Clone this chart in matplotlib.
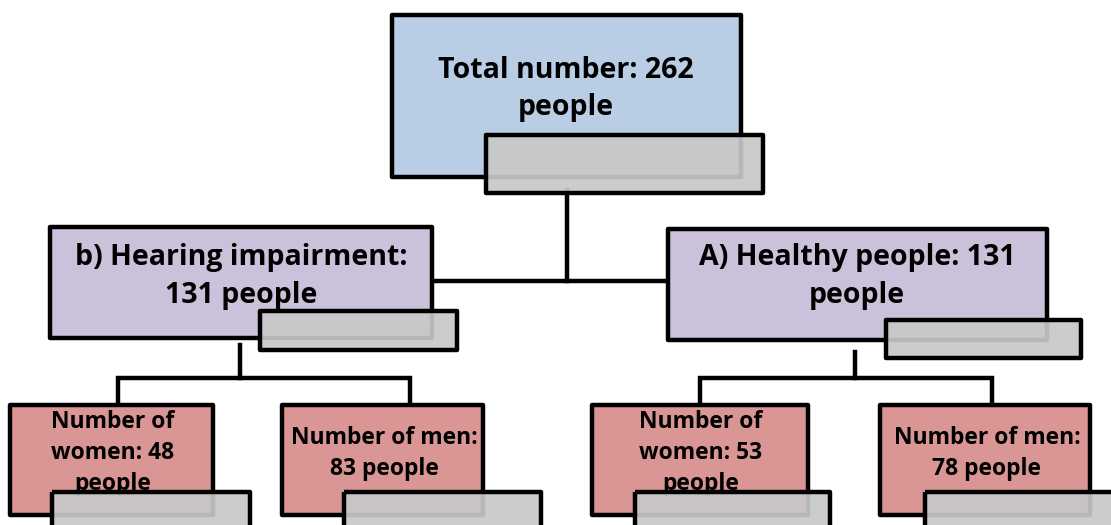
import matplotlib.pyplot as plt
import matplotlib.patches as patches

# data
total = 262
group_names = ["b) Hearing impairment", "A) Healthy people"]
group_counts = [131, 131]
women_counts = [48, 53]
men_counts = [83, 78]

BLUE = "#b9cde5"
PURPLE = "#ccc1da"
RED = "#d99694"
GRAY = "#c8c8c8"
FONT = "Open Sans"


def box(ax, x0, y0, x1, y1, color, lines, tx, ty, size, step, gray):
    rect = patches.Rectangle((x0, y0), x1 - x0, y1 - y0, facecolor=color,
                             edgecolor="black", lw=3.2, joinstyle="round", zorder=2)
    ax.add_patch(rect)
    for i, line in enumerate(lines):
        ax.text(tx, ty + i * step, line, ha="center", va="center", fontsize=size,
                fontweight="bold", family=FONT, zorder=3)
    gx0, gy0, gx1, gy1 = gray
    g = patches.Rectangle((gx0, gy0), gx1 - gx0, gy1 - gy0, facecolor=GRAY, alpha=0.92,
                          edgecolor="none", zorder=4)
    ax.add_patch(g)
    ax.add_patch(patches.Rectangle((gx0, gy0), gx1 - gx0, gy1 - gy0, facecolor="none",
                                   edgecolor="black", lw=3.2, joinstyle="round", zorder=5))


def connector(ax, pts):
    xs, ys = zip(*pts)
    ax.plot(xs, ys, color="black", lw=3.2, solid_joinstyle="miter", zorder=1)


fig = plt.figure(figsize=(11.11, 5.25), dpi=100)
ax = fig.add_axes([0, 0, 1, 1])
ax.set_xlim(0, 1111)
ax.set_ylim(525, 0)
ax.axis("off")

# connectors
connector(ax, [(567, 190), (567, 281)])
connector(ax, [(432, 281), (668, 281)])
connector(ax, [(240, 345), (240, 378)])
connector(ax, [(118, 405), (118, 378), (410, 378), (410, 405)])
connector(ax, [(855, 352), (855, 378)])
connector(ax, [(700, 405), (700, 378), (992, 378), (992, 405)])

# top
box(ax, 392, 15, 741, 177, BLUE, ["Total number: %d" % total, "people"],
    566, 70, 20.5, 37, (486, 135, 763, 193))

# middle
mid = [(50, 227, 432, 338, 241, (260, 311, 457, 350)),
       (668, 229, 1047, 340, 857, (886, 320, 1081, 358))]
for (x0, y0, x1, y1, tx, g), name, n in zip(mid, group_names, group_counts):
    if len(name) > 18:
        lines = [name + ":", "%d people" % n]
    else:
        lines = [name + ": %d" % n, "people"]
    box(ax, x0, y0, x1, y1, PURPLE, lines, tx, 258, 20.5, 37, g)

# bottom
bottom = [(10, 405, 213, 515, (52, 492, 250, 535)),
          (282, 405, 483, 515, (344, 492, 541, 535)),
          (592, 405, 808, 515, (635, 492, 830, 535)),
          (880, 405, 1090, 515, (925, 492, 1120, 535))]
for i in range(2):
    w = bottom[2 * i]
    m = bottom[2 * i + 1]
    box(ax, w[0], w[1], w[2], w[3], RED,
        ["Number of", "women: %d" % women_counts[i], "people"],
        (w[0] + w[2]) / 2 + 1, 422, 16.5, 31, w[4])
    box(ax, m[0], m[1], m[2], m[3], RED,
        ["Number of men:", "%d people" % men_counts[i]],
        (m[0] + m[2]) / 2 + 2, 438, 16.5, 31, m[4])

fig.savefig("out.png", dpi=100)
